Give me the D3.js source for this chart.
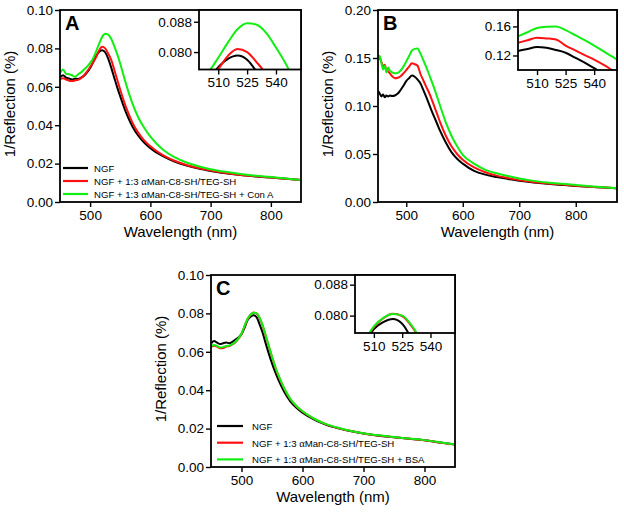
<!DOCTYPE html>
<html>
<head>
<meta charset="utf-8">
<script src="https://cdn.jsdelivr.net/npm/d3@7"></script>
<style>
  body { margin: 0; background: #fff; }
  svg text { font-family: Arial, "Liberation Sans", sans-serif; fill: #000; }
</style>
</head>
<body>
<div id="chart"></div>
<script>
// wavelengths (nm)
var wlAC = [450,455,460,465,470,475,480,485,490,495,500,505,510,515,520,525,530,535,540,545,550,555,560,570,580,590,600,620,640,660,680,700,725,750,775,800,825,850];
var wlB = [450,453,456,459,462,465,468,471,475,480,485,490,495,500,505,510,515,520,525,530,535,540,545,550,555,560,570,580,590,600,620,640,660,680,700,725,750,775,800,825,850,873];

// panel A
var aBlack = [0.0650,0.0660,0.0648,0.0643,0.0638,0.0642,0.0641,0.0648,0.0658,0.0675,0.0698,0.0728,0.0760,0.0782,0.0791,0.0780,0.0747,0.0700,0.0648,0.0597,0.0550,0.0505,0.0463,0.0395,0.0345,0.0308,0.0280,0.0240,0.0211,0.0190,0.0174,0.0162,0.0150,0.0140,0.0133,0.0127,0.0121,0.0115];
var aRed = [0.0640,0.0645,0.0638,0.0632,0.0630,0.0633,0.0636,0.0645,0.0660,0.0680,0.0703,0.0728,0.0755,0.0790,0.0808,0.0800,0.0773,0.0740,0.0690,0.0637,0.0585,0.0535,0.0490,0.0415,0.0360,0.0320,0.0290,0.0245,0.0215,0.0193,0.0177,0.0164,0.0151,0.0141,0.0134,0.0127,0.0121,0.0115];
var aGreen = [0.0670,0.0690,0.0668,0.0665,0.0660,0.0652,0.0665,0.0675,0.0690,0.0705,0.0725,0.0748,0.0785,0.0825,0.0860,0.0876,0.0872,0.0850,0.0812,0.0770,0.0720,0.0665,0.0610,0.0515,0.0440,0.0385,0.0340,0.0275,0.0234,0.0206,0.0186,0.0171,0.0157,0.0146,0.0137,0.0130,0.0122,0.0115];

// panel B
var bBlack = [0.116,0.113,0.110,0.112,0.109,0.111,0.110,0.111,0.1105,0.111,0.113,0.1167,0.121,0.126,0.129,0.1317,0.1305,0.1275,0.1238,0.117,0.110,0.1025,0.095,0.088,0.081,0.074,0.062,0.052,0.045,0.040,0.0325,0.0285,0.026,0.024,0.022,0.0204,0.019,0.0178,0.0167,0.0158,0.015,0.0142];
var bRed = [0.153,0.150,0.146,0.141,0.143,0.137,0.136,0.134,0.131,0.129,0.1295,0.131,0.134,0.1374,0.141,0.1445,0.1435,0.142,0.1336,0.127,0.1205,0.1143,0.107,0.099,0.091,0.083,0.069,0.058,0.050,0.044,0.036,0.031,0.0275,0.025,0.0228,0.0208,0.0194,0.0181,0.017,0.016,0.015,0.0143];
var bGreen = [0.150,0.152,0.145,0.138,0.142,0.135,0.140,0.137,0.135,0.134,0.1345,0.137,0.141,0.1464,0.152,0.1577,0.1595,0.1598,0.1548,0.148,0.141,0.1336,0.1256,0.1176,0.109,0.100,0.083,0.069,0.058,0.049,0.040,0.0335,0.030,0.027,0.0245,0.022,0.0203,0.019,0.0178,0.0165,0.0153,0.0143];

// panel C
var cBlack = [0.0643,0.0656,0.0648,0.0640,0.0645,0.0648,0.0645,0.0652,0.0664,0.0675,0.0692,0.0725,0.0765,0.0783,0.0791,0.0779,0.0740,0.0695,0.0640,0.0588,0.0540,0.0497,0.0458,0.0392,0.0342,0.0308,0.0283,0.0245,0.0218,0.0200,0.0186,0.0174,0.0163,0.0155,0.0147,0.0139,0.0128,0.0117];
var cRed = [0.0625,0.0632,0.0627,0.0618,0.0620,0.0627,0.0630,0.0638,0.0650,0.0668,0.0693,0.0733,0.0770,0.0793,0.0805,0.0799,0.0773,0.0733,0.0680,0.0626,0.0573,0.0523,0.0480,0.0408,0.0353,0.0316,0.0289,0.0249,0.0221,0.0202,0.0187,0.0175,0.0164,0.0155,0.0147,0.0139,0.0128,0.0117];
var cGreen = [0.0628,0.0635,0.0630,0.0622,0.0625,0.0630,0.0632,0.0640,0.0652,0.0670,0.0695,0.0735,0.0772,0.0794,0.0804,0.0800,0.0775,0.0735,0.0682,0.0628,0.0575,0.0525,0.0482,0.0410,0.0355,0.0318,0.0290,0.0250,0.0222,0.0203,0.0188,0.0176,0.0165,0.0156,0.0148,0.0140,0.0129,0.0117];

// ticks
var xTicksMain = [500, 600, 700, 800];
var xTicksInset = [510, 525, 540];
var yTicksA = [0, 0.02, 0.04, 0.06, 0.08, 0.10];
var yTicksB = [0, 0.05, 0.10, 0.15, 0.20];
var yTicksInsetA = [0.080, 0.088];
var yTicksInsetB = [0.12, 0.16];

var colors = ["#000000", "#ff1111", "#11ee11"];
var legendA = ["NGF", "NGF + 1:3 \u03b1Man-C8-SH/TEG-SH", "NGF + 1:3 \u03b1Man-C8-SH/TEG-SH + Con A"];
var legendC = ["NGF", "NGF + 1:3 \u03b1Man-C8-SH/TEG-SH", "NGF + 1:3 \u03b1Man-C8-SH/TEG-SH + BSA"];

var svg = d3.select("#chart").append("svg")
  .attr("width", 624)
  .attr("height", 513);

var clipId = 0;

function drawFrame(g, x, y, xTicks, yTicks, yFmt, fontSize) {
  var x0 = x.range()[0], x1 = x.range()[1];
  var y0 = y.range()[0], y1 = y.range()[1];

  var xAxis = g.append("g")
    .attr("transform", `translate(0,${y0})`)
    .call(d3.axisBottom(x).tickValues(xTicks).tickSize(5).tickSizeOuter(0).tickPadding(3));
  var yAxis = g.append("g")
    .attr("transform", `translate(${x0},0)`)
    .call(d3.axisLeft(y).tickValues(yTicks).tickFormat(d3.format(yFmt)).tickSize(5).tickSizeOuter(0).tickPadding(2));

  [xAxis, yAxis].forEach(function(a) {
    a.select(".domain").remove();
    a.selectAll(".tick line").attr("stroke", "#000").attr("stroke-width", 1.4);
    a.selectAll(".tick text")
      .style("font-family", "Arial, 'Liberation Sans', sans-serif")
      .style("font-size", fontSize + "px")
      .attr("fill", "#000");
  });

  g.append("rect")
    .attr("x", x0).attr("y", y1)
    .attr("width", x1 - x0).attr("height", y0 - y1)
    .attr("fill", "none")
    .attr("stroke", "#000")
    .attr("stroke-width", 1.8);
}

function drawLines(g, x, y, wl, series) {
  var id = "clip" + (clipId++);
  g.append("clipPath").attr("id", id)
    .append("rect")
    .attr("x", x.range()[0]).attr("y", y.range()[1])
    .attr("width", x.range()[1] - x.range()[0])
    .attr("height", y.range()[0] - y.range()[1]);

  var line = d3.line()
    .x(function(d) { return x(d[0]); })
    .y(function(d) { return y(d[1]); })
    .curve(d3.curveMonotoneX);

  g.append("g").attr("clip-path", `url(#${id})`)
    .selectAll("path")
    .data(series)
    .enter()
    .append("path")
    .attr("d", function(s) { return line(wl.map(function(w, i) { return [w, s[i]]; })); })
    .attr("fill", "none")
    .attr("stroke", function(s, i) { return colors[i]; })
    .attr("stroke-width", 2);
}

function drawPanel(p) {
  var g = svg.append("g");

  var x = d3.scaleLinear().domain(p.xDomain).range([p.left, p.right]);
  var y = d3.scaleLinear().domain(p.yDomain).range([p.bottom, p.top]);

  drawLines(g, x, y, p.wl, p.series);
  drawFrame(g, x, y, xTicksMain, p.yTicks, ".2f", 13.5);

  // panel letter
  g.append("text")
    .attr("x", p.left + 5)
    .attr("y", p.top + 20)
    .style("font-size", "20px")
    .style("font-weight", "bold")
    .text(p.letter);

  // axis titles
  g.append("text")
    .attr("x", (p.left + p.right) / 2)
    .attr("y", p.bottom + 35)
    .attr("text-anchor", "middle")
    .style("font-size", "15px")
    .text("Wavelength (nm)");

  g.append("text")
    .attr("transform", `translate(${p.left - 45},${(p.top + p.bottom) / 2 - 2}) rotate(-90)`)
    .attr("text-anchor", "middle")
    .style("font-size", "15px")
    .text("1/Reflection (%)");

  // inset
  var ix = d3.scaleLinear().domain(p.inset.xDomain).range([p.inset.left, p.right]);
  var iy = d3.scaleLinear().domain(p.inset.yDomain).range([p.inset.bottom, p.top]);
  g.append("rect")
    .attr("x", p.inset.left).attr("y", p.top)
    .attr("width", p.right - p.inset.left).attr("height", p.inset.bottom - p.top)
    .attr("fill", "#fff");
  drawLines(g, ix, iy, p.wl, p.series);
  drawFrame(g, ix, iy, xTicksInset, p.inset.yTicks, p.inset.yFmt, 13.5);

  // legend
  if (p.legend) {
    var lg = g.append("g");
    p.legend.labels.forEach(function(lab, i) {
      var ly = p.legend.y + i * p.legend.step;
      lg.append("line")
        .attr("x1", p.legend.x).attr("x2", p.legend.x + p.legend.len)
        .attr("y1", ly).attr("y2", ly)
        .attr("stroke", colors[i]).attr("stroke-width", 2.2);
      var t = lg.append("text")
        .attr("x", p.legend.x + p.legend.len + p.legend.gap)
        .attr("y", ly + 4)
        .style("font-size", p.legend.size + "px");
      var parts = lab.split("\u03b1");
      t.append("tspan").text(parts[0]);
      if (parts.length > 1) {
        t.append("tspan").style("font-family", "'Liberation Serif', 'Times New Roman', serif").style("font-size", (p.legend.size + 1) + "px").text("\u03b1");
        t.append("tspan").text(parts[1]);
      }
    });
  }
}

drawPanel({
  letter: "A", left: 60, right: 301, top: 10, bottom: 202,
  xDomain: [450, 850], yDomain: [0, 0.10], yTicks: yTicksA,
  wl: wlAC, series: [aBlack, aRed, aGreen],
  inset: { left: 199, bottom: 69.5, xDomain: [500, 553], yDomain: [0.0754, 0.0911], yTicks: yTicksInsetA, yFmt: ".3f" },
  legend: { x: 63, y: 168, step: 13, len: 25, gap: 6, size: 9.6, labels: legendA }
});

drawPanel({
  letter: "B", left: 378, right: 617, top: 10, bottom: 202,
  xDomain: [450, 873], yDomain: [0, 0.20], yTicks: yTicksB,
  wl: wlB, series: [bBlack, bRed, bGreen],
  inset: { left: 518, bottom: 70, xDomain: [500, 552], yDomain: [0.100, 0.1826], yTicks: yTicksInsetB, yFmt: ".2f" },
  legend: null
});

drawPanel({
  letter: "C", left: 211, right: 455, top: 275, bottom: 467,
  xDomain: [450, 850], yDomain: [0, 0.10], yTicks: yTicksA,
  wl: wlAC, series: [cBlack, cRed, cGreen],
  inset: { left: 355, bottom: 333, xDomain: [500, 553], yDomain: [0.0755, 0.0905], yTicks: yTicksInsetA, yFmt: ".3f" },
  legend: { x: 217, y: 426, step: 16.7, len: 26, gap: 9, size: 9.6, labels: legendC }
});
</script>
</body>
</html>
